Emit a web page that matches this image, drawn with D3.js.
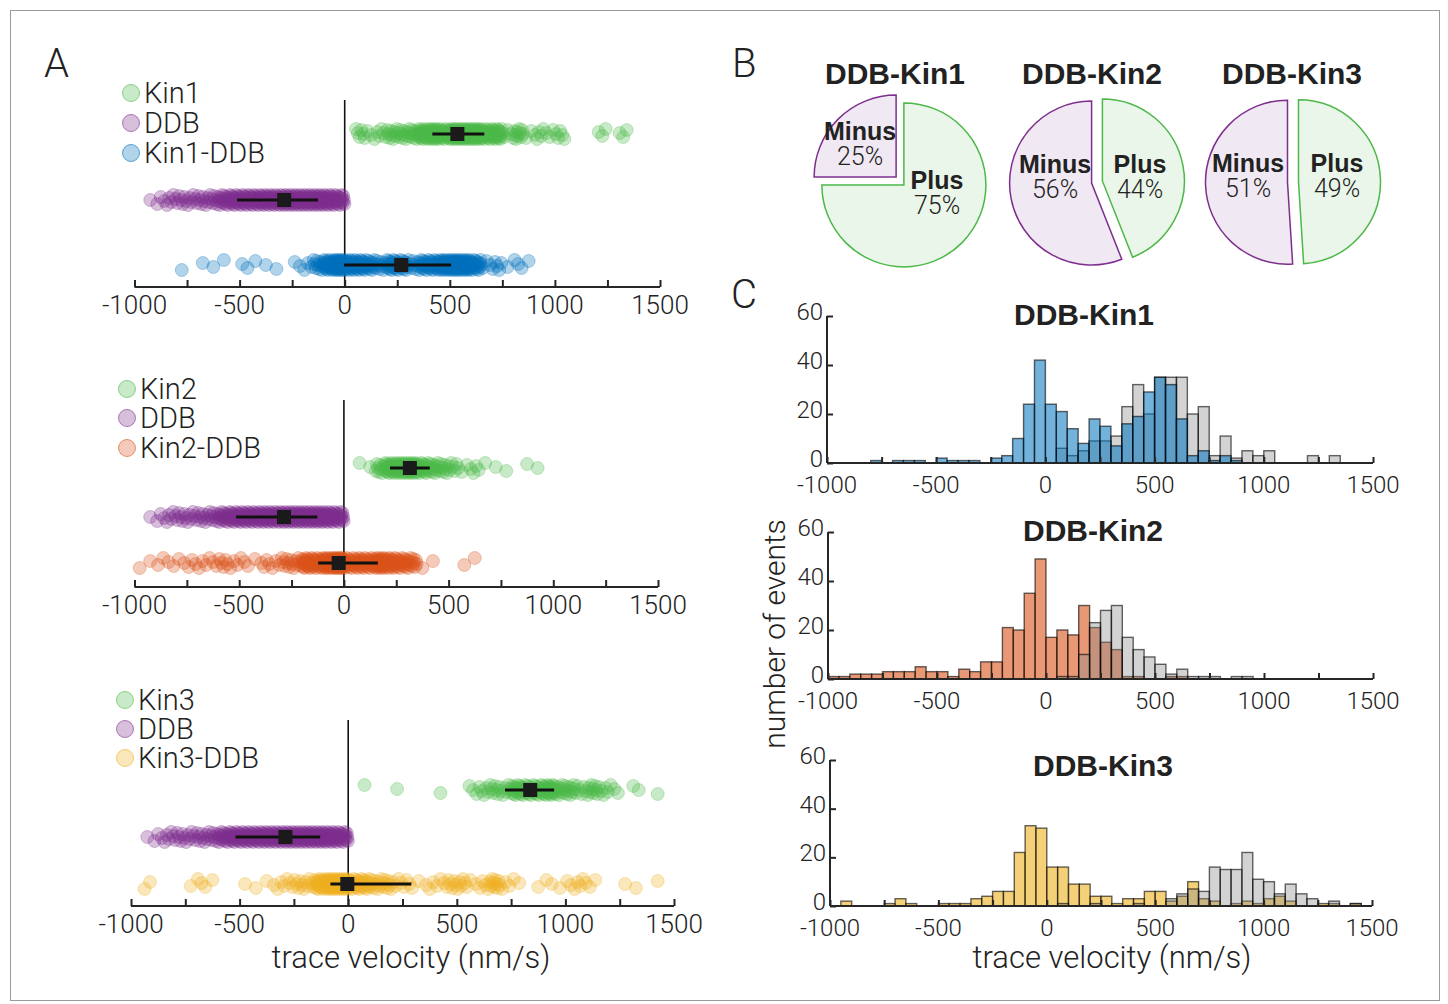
<!DOCTYPE html>
<html><head><meta charset="utf-8">
<script src="https://cdn.jsdelivr.net/npm/d3@7"></script>
<style>
body{margin:0;background:#fff;}
svg text{font-family:Roboto,"Helvetica Neue",Arial,sans-serif;font-weight:300;fill:#222;}
</style></head><body>
<svg id="fig" width="1448" height="1004"></svg>
<script>
// ---------------- DATA ----------------
const binStart = -1000, binWidth = 50;            // 50 histogram bins, -1000 .. 1500 nm/s
const velTickValues = [-1000, -500, 0, 500, 1000, 1500];
const velTickLabels = ["-1000", "-500", "0", "500", "1000", "1500"];
const countTickValues = [0, 20, 40, 60];
const countTickLabels = ["0", "20", "40", "60"];

// event counts per 50 nm/s bin
const kin1DDBCounts = [0,0,0,0,1,0,1,1,1,0, 2,1,1,1,0,2,3,10,24,42, 24,21,14,8,18,15,7,16,19,29, 35,32,18,3,5,1,3,1,0,0, 0,0,0,0,0,0,0,0,0,0];
const kin1Counts    = [0,0,0,0,0,0,0,0,0,0, 0,0,0,0,0,0,0,0,0,0, 0,6,3,5,9,9,11,23,32,20, 35,35,35,20,23,3,11,2,5,3, 5,0,0,0,3,0,3,0,0,0];
const kin2DDBCounts = [1,1,2,2,2,3,3,3,5,3, 3,1,4,3,7,7,21,20,35,49, 17,20,18,30,21,15,12,1,1,0, 0,1,1,0,0,0,0,0,0,0, 0,0,0,0,0,0,0,0,0,0];
const kin2Counts    = [0,0,0,0,0,0,0,0,0,0, 0,0,0,0,0,0,0,0,0,0, 0,1,1,10,23,28,30,17,12,9, 6,2,4,1,1,1,0,1,1,0, 0,0,0,0,0,0,0,0,0,0];
const kin3DDBCounts = [0,2,0,0,0,1,3,1,0,0, 1,1,1,3,4,6,6,22,33,32, 16,16,9,9,4,4,1,3,3,6, 6,2,4,10,3,2,0,1,2,1, 3,4,2,0,0,1,1,0,1,0];
const kin3Counts    = [0,0,0,0,0,0,0,0,0,0, 0,0,0,0,0,0,0,0,0,0, 0,1,0,0,1,0,0,0,1,0, 0,3,5,7,6,16,15,15,22,11, 10,5,9,5,3,0,2,0,1,0];
// DDB alone (panel A only, estimated density)
const ddbCounts     = [0,1,3,5,6,6,7,8,14,18, 20,20,22,22,24,24,24,24,22,18, 0,0,0,0,0,0,0,0,0,0, 0,0,0,0,0,0,0,0,0,0, 0,0,0,0,0,0,0,0,0,0];

// panel A summary markers (per subplot: [single kinesin, DDB, kinesin-DDB])
const panelAMean = [[536, -288, 269], [315, -286, -25], [838, -289, -4]];
const panelALow  = [[417, -512, -3],  [220, -515, -123], [722, -519, -82]];
const panelAHigh = [[664, -127, 506], [410, -127, 162], [948, -129, 291]];
const panelALegend = [["Kin1", "DDB", "Kin1-DDB"], ["Kin2", "DDB", "Kin2-DDB"], ["Kin3", "DDB", "Kin3-DDB"]];

// panel B
const pieTitles = ["DDB-Kin1", "DDB-Kin2", "DDB-Kin3"];
const plusPct  = [75, 44, 49];
const minusPct = [25, 56, 51];

// panel C
const histTitles = ["DDB-Kin1", "DDB-Kin2", "DDB-Kin3"];

// ---------------- STYLE ----------------
const cGreen = "#4cb848", cPurple = "#7e2f8e", cBlue = "#0072bd", cOrange = "#d95319", cYellow = "#edb120";
const axisCol = "#262626";
const boldFont = "'Liberation Sans',Arial,Helvetica,sans-serif";

const svg = d3.select("#fig");
svg.append("rect").attr("x", 10.5).attr("y", 10.5).attr("width", 1429).attr("height", 990)
  .attr("fill", "none").attr("stroke", "#9a9a9a").attr("stroke-width", 1);

function expand(counts) {
  const vals = [];
  counts.forEach((n, i) => {
    for (let j = 0; j < n; j++) vals.push(binStart + binWidth * i + binWidth * (j + 0.5) / n);
  });
  return vals;
}

// ---------------- PANEL A ----------------
svg.append("text").attr("x", 44).attr("y", 77).attr("font-size", 40).text("A");

const subA = [
  {x0: 134.5, x1: 660, axisY: 287, zeroTop: 100, rows: [134, 200, 265], lx: 131, ly: [93, 123, 153],
   series: [kin1Counts, ddbCounts, kin1DDBCounts], colors: [cGreen, cPurple, cBlue]},
  {x0: 134.5, x1: 658, axisY: 587, zeroTop: 400, rows: [468, 517, 563], lx: 127, ly: [389, 418, 448],
   series: [kin2Counts, ddbCounts, kin2DDBCounts], colors: [cGreen, cPurple, cOrange]},
  {x0: 131, x1: 674, axisY: 906, zeroTop: 720, rows: [790, 837, 884], lx: 125, ly: [700, 729, 758],
   series: [kin3Counts, ddbCounts, kin3DDBCounts], colors: [cGreen, cPurple, cYellow]}
];

subA.forEach((s, si) => {
  const g = svg.append("g");
  const x = d3.scaleLinear().domain([-1000, 1500]).range([s.x0, s.x1]);
  g.append("line").attr("x1", x(0)).attr("x2", x(0)).attr("y1", s.zeroTop).attr("y2", s.axisY)
    .attr("stroke", "#111").attr("stroke-width", 1.6);
  s.series.forEach((counts, ri) => {
    const vals = expand(counts);
    g.append("g").selectAll("circle").data(vals).join("circle")
      .attr("cx", d => x(d))
      .attr("cy", (d, k) => s.rows[ri] + (((k * 37 + ri * 5) % 11) - 5) * 1.0)
      .attr("r", 6.5)
      .attr("fill", s.colors[ri]).attr("fill-opacity", 0.3)
      .attr("stroke", s.colors[ri]).attr("stroke-opacity", 0.3).attr("stroke-width", 1);
    g.append("line").attr("x1", x(panelALow[si][ri])).attr("x2", x(panelAHigh[si][ri]))
      .attr("y1", s.rows[ri]).attr("y2", s.rows[ri]).attr("stroke", "#111").attr("stroke-width", 3);
    g.append("rect").attr("x", x(panelAMean[si][ri]) - 7).attr("y", s.rows[ri] - 7)
      .attr("width", 14).attr("height", 14).attr("fill", "#1a1a1a");
  });
  const ax = g.append("g").attr("transform", `translate(0,${s.axisY})`)
    .call(d3.axisBottom(x).tickValues(d3.range(-1000, 1501, 250)).tickSize(-7).tickFormat(""));
  ax.select(".domain").attr("stroke", axisCol).attr("stroke-width", 2).attr("d", `M${s.x0},0H${s.x1}`);
  ax.selectAll(".tick line").attr("stroke", axisCol).attr("stroke-width", 2);
  g.selectAll(".tlab").data(velTickValues).join("text")
    .attr("x", d => x(d)).attr("y", s.axisY + 27).attr("text-anchor", "middle")
    .attr("font-size", 26).attr("fill", "#333").text((d, i) => velTickLabels[i]);
  panelALegend[si].forEach((name, li) => {
    g.append("circle").attr("cx", s.lx).attr("cy", s.ly[li]).attr("r", 8.5)
      .attr("fill", s.colors[li]).attr("fill-opacity", 0.3)
      .attr("stroke", s.colors[li]).attr("stroke-opacity", 0.6).attr("stroke-width", 1);
    g.append("text").attr("x", s.lx + 13).attr("y", s.ly[li] + 10).attr("font-size", 29)
      .attr("fill", "#111").text(name);
  });
});
svg.append("text").attr("x", 411).attr("y", 968).attr("text-anchor", "middle").attr("font-size", 31)
  .attr("fill", "#333").text("trace velocity (nm/s)");

// ---------------- PANEL B ----------------
svg.append("text").attr("x", 732).attr("y", 77).attr("font-size", 40).text("B");
const pieLayout = [
  {cx: 900, cy: 181, tx: 895, lab: {minus: [-40, -38], plus: [37, 11]}},
  {cx: 1097, cy: 182, tx: 1092, lab: {minus: [-42, -6], plus: [43, -6]}},
  {cx: 1293, cy: 182, tx: 1292, lab: {minus: [-45, -7], plus: [44, -7]}}
];
const pieR = 82, explode = 5.5;
pieTitles.forEach((t, pi) => {
  const L = pieLayout[pi];
  const g = svg.append("g").attr("transform", `translate(${L.cx},${L.cy})`);
  const slices = [
    {name: "Plus", pct: plusPct[pi], a0: 0, a1: 2 * Math.PI * plusPct[pi] / 100, fill: "#ebf6ea", stroke: cGreen, key: "plus"},
    {name: "Minus", pct: minusPct[pi], a0: 2 * Math.PI * plusPct[pi] / 100, a1: 2 * Math.PI, fill: "#f0e8f2", stroke: cPurple, key: "minus"}
  ];
  const arc = d3.arc().innerRadius(0).outerRadius(pieR);
  slices.forEach(sl => {
    const mid = (sl.a0 + sl.a1) / 2;
    g.append("path").attr("d", arc({startAngle: sl.a0, endAngle: sl.a1}))
      .attr("transform", `translate(${explode * Math.sin(mid)},${-explode * Math.cos(mid)})`)
      .attr("fill", sl.fill).attr("stroke", sl.stroke).attr("stroke-width", 1.5);
  });
  slices.forEach(sl => {
    const [dx, dy] = L.lab[sl.key];
    g.append("text").attr("x", dx).attr("y", dy - 3).attr("text-anchor", "middle")
      .attr("font-size", 25).attr("fill", "#000")
      .style("font-weight", 700).style("font-family", boldFont).text(sl.name);
    g.append("text").attr("x", dx).attr("y", dy + 22).attr("text-anchor", "middle")
      .attr("font-size", 25).attr("fill", "#111").text(sl.pct + "%");
  });
  svg.append("text").attr("x", L.tx).attr("y", 84).attr("text-anchor", "middle")
    .attr("font-size", 30).attr("fill", "#000").style("font-weight", 700)
    .style("font-family", boldFont).text(t);
});

// ---------------- PANEL C ----------------
svg.append("text").attr("x", 731).attr("y", 308).attr("font-size", 40).text("C");
const histLayout = [
  {x0: 827, x1: 1373, y0: 463, y60: 316, tx: 1084, ty: 325, main: kin1DDBCounts, ref: kin1Counts, col: cBlue, colorOnTop: true},
  {x0: 828, x1: 1373, y0: 679, y60: 532, tx: 1093, ty: 541, main: kin2DDBCounts, ref: kin2Counts, col: cOrange, colorOnTop: false},
  {x0: 830, x1: 1372, y0: 906, y60: 760, tx: 1103, ty: 776, main: kin3DDBCounts, ref: kin3Counts, col: cYellow, colorOnTop: false}
];
histLayout.forEach((h, hi) => {
  const g = svg.append("g");
  const x = d3.scaleLinear().domain([-1000, 1500]).range([h.x0, h.x1]);
  const y = d3.scaleLinear().domain([0, 60]).range([h.y0, h.y60]);
  function bars(counts, fill, op) {
    g.append("g").selectAll("rect").data(counts.map((c, i) => ({c, i})).filter(d => d.c > 0)).join("rect")
      .attr("x", d => x(binStart + d.i * binWidth)).attr("width", d => x(binStart + (d.i + 1) * binWidth) - x(binStart + d.i * binWidth))
      .attr("y", d => y(d.c)).attr("height", d => y(0) - y(d.c))
      .attr("fill", fill).attr("fill-opacity", op)
      .attr("stroke", "#000").attr("stroke-opacity", 0.6).attr("stroke-width", 1.4);
  }
  if (h.colorOnTop) { bars(h.ref, "#8c8c8c", 0.38); bars(h.main, h.col, 0.55); }
  else { bars(h.main, h.col, 0.6); bars(h.ref, "#8c8c8c", 0.38); }
  const ax = g.append("g").attr("transform", `translate(0,${h.y0})`)
    .call(d3.axisBottom(x).tickValues(d3.range(-1000, 1501, 250)).tickSize(-6).tickFormat(""));
  ax.select(".domain").attr("stroke", axisCol).attr("stroke-width", 2).attr("d", `M${h.x0},0H${h.x1}`);
  ax.selectAll(".tick line").attr("stroke", axisCol).attr("stroke-width", 2);
  const ay = g.append("g").attr("transform", `translate(${h.x0},0)`)
    .call(d3.axisLeft(y).tickValues(countTickValues).tickSize(-6).tickFormat(""));
  ay.select(".domain").attr("stroke", axisCol).attr("stroke-width", 2).attr("d", `M0,${h.y0}V${h.y60}`);
  ay.selectAll(".tick line").attr("stroke", axisCol).attr("stroke-width", 2);
  g.selectAll(".xl").data(velTickValues).join("text")
    .attr("x", d => x(d)).attr("y", h.y0 + 30).attr("text-anchor", "middle")
    .attr("font-size", 24).attr("fill", "#333").text((d, i) => velTickLabels[i]);
  g.selectAll(".yl").data(countTickValues).join("text")
    .attr("x", h.x0 - 4).attr("y", d => y(d) + 4).attr("text-anchor", "end")
    .attr("font-size", 24).attr("fill", "#333").text((d, i) => countTickLabels[i]);
  g.append("text").attr("x", h.tx).attr("y", h.ty).attr("text-anchor", "middle")
    .attr("font-size", 30).attr("fill", "#000").style("font-weight", 700)
    .style("font-family", boldFont).text(histTitles[hi]);
});
svg.append("text").attr("x", 1112).attr("y", 968).attr("text-anchor", "middle").attr("font-size", 31)
  .attr("fill", "#333").text("trace velocity (nm/s)");
svg.append("text").attr("transform", "translate(785,634) rotate(-90)").attr("text-anchor", "middle")
  .attr("font-size", 30).attr("fill", "#333").text("number of events");
</script>
</body></html>
